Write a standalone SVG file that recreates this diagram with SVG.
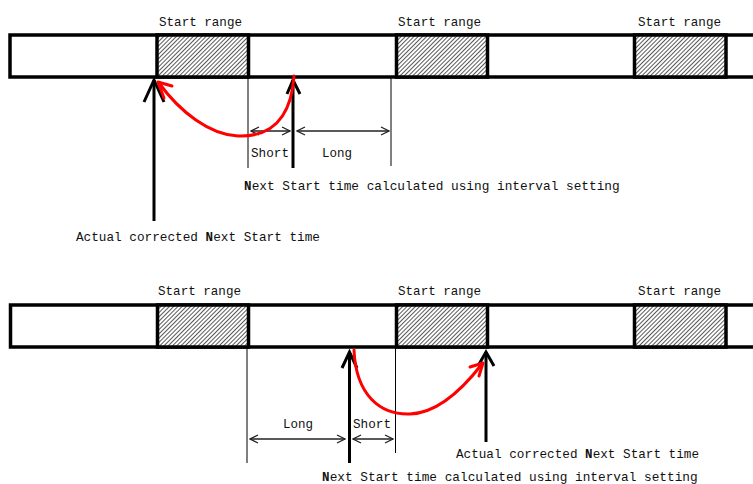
<svg xmlns="http://www.w3.org/2000/svg" width="753" height="484" viewBox="0 0 753 484">
<style>
text{font-family:"Liberation Mono","DejaVu Sans Mono",monospace;font-size:13px;fill:#111}
.b{font-weight:bold}
.bar{fill:#fff;stroke:#000;stroke-width:3.5}
.hat{fill:url(#hatch);stroke:#000;stroke-width:3.5}
.thin{stroke:#000;stroke-width:1;fill:none}
.dim{stroke:#222;stroke-width:1.3;fill:none;marker-start:url(#oa);marker-end:url(#oa)}
.big{stroke:#000;stroke-width:3;fill:none}
.red{stroke:#f00;stroke-width:3;fill:none;stroke-linecap:round;stroke-linejoin:round}
</style>
<defs>
<pattern id="hatch" width="3" height="3" patternUnits="userSpaceOnUse" patternTransform="rotate(45)">
<rect width="3" height="3" fill="#fff"/>
<line x1="0" y1="0" x2="0" y2="3" stroke="#111" stroke-width="1.4"/>
</pattern>
<marker id="oa" viewBox="0 0 10 10" refX="9" refY="5" markerWidth="10" markerHeight="10" markerUnits="userSpaceOnUse" orient="auto-start-reverse">
<path d="M1,1 L9,5 L1,9" fill="none" stroke="#222" stroke-width="1.3"/>
</marker>
</defs>

<g id="bar-top">
<rect class="bar" x="10" y="35" width="760" height="42"/>
<rect class="hat" x="157" y="35" width="91.5" height="42"/>
<rect class="hat" x="396.5" y="35" width="91" height="42"/>
<rect class="hat" x="634.5" y="35" width="91.5" height="42"/>
<text x="159" y="26" textLength="83" lengthAdjust="spacingAndGlyphs">Start range</text>
<text x="398" y="26" textLength="83" lengthAdjust="spacingAndGlyphs">Start range</text>
<text x="638" y="26" textLength="83" lengthAdjust="spacingAndGlyphs">Start range</text>
</g>

<g id="bar-bottom">
<rect class="bar" x="10.5" y="305" width="760" height="42"/>
<rect class="hat" x="157.5" y="305" width="91" height="42"/>
<rect class="hat" x="396.5" y="305" width="91" height="42"/>
<rect class="hat" x="634.5" y="305" width="91.5" height="42"/>
<text x="158" y="295" textLength="83" lengthAdjust="spacingAndGlyphs">Start range</text>
<text x="398" y="295" textLength="83" lengthAdjust="spacingAndGlyphs">Start range</text>
<text x="638" y="295" textLength="83" lengthAdjust="spacingAndGlyphs">Start range</text>
</g>

<g id="connectors">
<!-- top panel -->
<line class="thin" x1="248" y1="78" x2="248" y2="168"/>
<line class="thin" x1="391" y1="78" x2="391" y2="166"/>
<line class="dim" x1="251" y1="131" x2="290" y2="131"/>
<line class="dim" x1="297" y1="131" x2="389" y2="131"/>
<line class="big" x1="154" y1="221" x2="154" y2="80"/>
<polyline class="big" points="144,102 154,80 164,102"/>
<line class="big" x1="293" y1="168" x2="293" y2="80" stroke-width="2.5"/>
<polyline class="big" points="287,94 293,80 300,94" stroke-width="2.5"/>
<path class="red" d="M294,76 C291,120 270,137 238,136 C210,135 180,112 159,83"/>
<polyline class="red" points="172,86 158,82 164,98"/>
<!-- bottom panel -->
<line class="thin" x1="247" y1="348" x2="247" y2="463"/>
<line class="thin" x1="395.5" y1="348" x2="395.5" y2="453"/>
<line class="dim" x1="250" y1="439" x2="345" y2="439"/>
<line class="dim" x1="353" y1="439" x2="393" y2="439"/>
<line class="big" x1="349.5" y1="463" x2="349.5" y2="352"/>
<polyline class="big" points="342,368 349.5,352 357,368"/>
<line class="big" x1="486" y1="442" x2="486" y2="352"/>
<polyline class="big" points="478,366 486,352 494,366"/>
<path class="red" d="M354,350 C356,395 380,415 410,414 C440,413 465,386 482,364"/>
<polyline class="red" points="470,367 483,363 479,376"/>
</g>

<g id="labels">
<text x="251" y="157" textLength="38" lengthAdjust="spacingAndGlyphs">Short</text>
<text x="322" y="157" textLength="30" lengthAdjust="spacingAndGlyphs">Long</text>
<text class="b" x="244" y="190" textLength="7.5" lengthAdjust="spacingAndGlyphs">N</text>
<text x="251.7" y="190" textLength="368" lengthAdjust="spacingAndGlyphs">ext Start time calculated using interval setting</text>
<text x="76" y="241" textLength="122" lengthAdjust="spacingAndGlyphs">Actual corrected</text>
<text class="b" x="205.6" y="241" textLength="7.5" lengthAdjust="spacingAndGlyphs">N</text>
<text x="213.2" y="241" textLength="106.8" lengthAdjust="spacingAndGlyphs">ext Start time</text>
<text x="283" y="428" textLength="30" lengthAdjust="spacingAndGlyphs">Long</text>
<text x="353" y="428" textLength="38" lengthAdjust="spacingAndGlyphs">Short</text>
<text x="456" y="458" textLength="121.5" lengthAdjust="spacingAndGlyphs">Actual corrected</text>
<text class="b" x="585.1" y="458" textLength="7.5" lengthAdjust="spacingAndGlyphs">N</text>
<text x="592.7" y="458" textLength="106.3" lengthAdjust="spacingAndGlyphs">ext Start time</text>
<text class="b" x="322" y="481" textLength="7.5" lengthAdjust="spacingAndGlyphs">N</text>
<text x="329.7" y="481" textLength="368" lengthAdjust="spacingAndGlyphs">ext Start time calculated using interval setting</text>
</g>
</svg>
